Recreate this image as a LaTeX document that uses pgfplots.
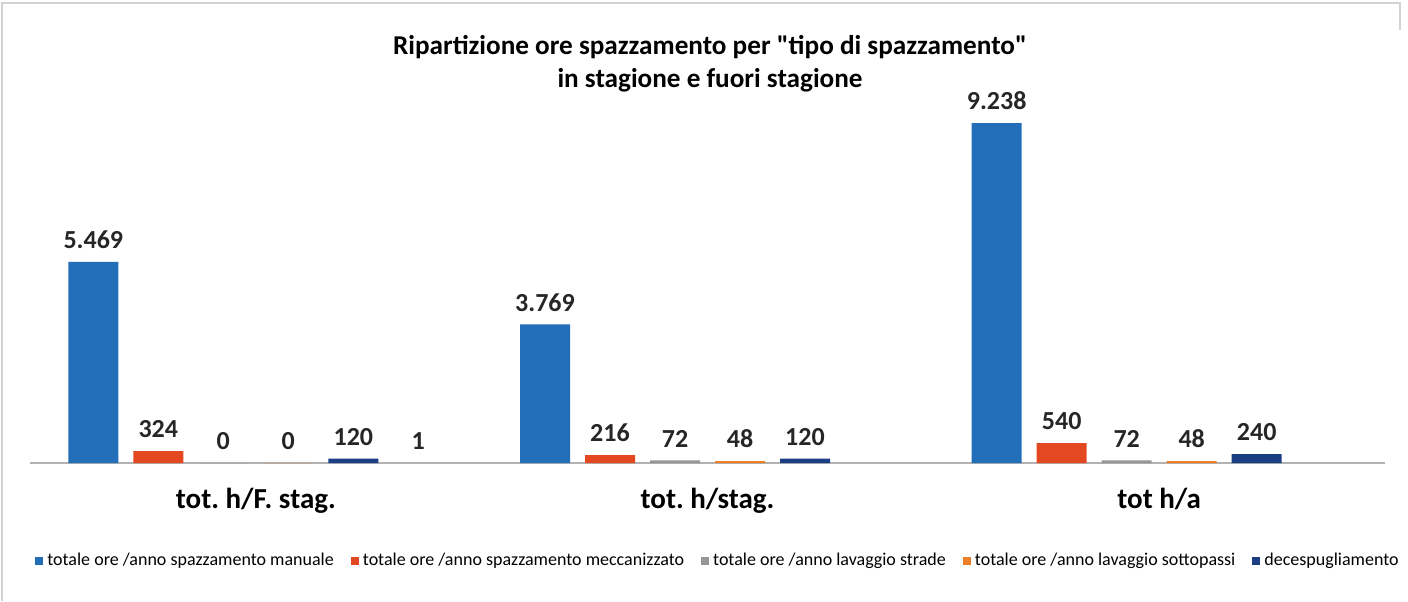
\documentclass[border=0pt]{standalone}
\usepackage{fontspec}
\setmainfont{Carlito}
\newfontfamily\qfont{Carlito}
\usepackage{pgfplots}
\pgfplotsset{compat=1.18}
\definecolor{cManual}{RGB}{34,110,184}
\definecolor{cMecc}{RGB}{228,72,32}
\definecolor{cStrade}{RGB}{150,150,150}
\definecolor{cSotto}{RGB}{236,128,40}
\definecolor{cDecesp}{RGB}{28,62,132}
\frenchspacing
\begin{document}
\begin{tikzpicture}
\path[use as bounding box] (0,0) rectangle (704pt,-300.5pt);
\draw[gray!35, line width=0.8pt] (1pt,-300.5pt) -- (1pt,-1.5pt) -- (700pt,-1.5pt) -- (700pt,-15pt);
\node[font=\bfseries\fontsize{13.6}{16.5}\selectfont, align=center] at (355pt,-32pt)
  {Ripartizione ore spazzamento per {\qfont"}tipo di spazzamento{\qfont"}\\in stagione e fuori stagione};
\begin{axis}[
  at={(15pt,-231.5pt)}, anchor=south west,
  scale only axis, width=677.5pt, height=184pt,
  xmin=-0.5, xmax=2.5, ymin=0, ymax=10000,
  ybar=7.5pt, bar width=25pt,
  axis x line*=bottom, axis y line=none,
  x axis line style={-, gray!60, line width=0.8pt},
  xtick={0,1,2},
  xticklabels={tot. h/F. stag., tot. h/stag., tot h/a},
  major tick length=0pt,
  xticklabel style={font=\bfseries\fontsize{14.5}{17}\selectfont, yshift=-9pt},
  nodes near coords={\pgfmathprintnumber[fixed,precision=0,1000 sep={.},assume math mode=true]{\pgfplotspointmeta}},
  every node near coord/.append style={font=\bfseries\fontsize{13}{15}\selectfont, yshift=3pt, text=black!85},
  legend style={at={(0.5085,-0.266)}, anchor=center, draw=none, fill=none,
    legend columns=5, font=\fontsize{9}{11}\selectfont,
    /tikz/every even column/.append style={column sep=6.5pt},
    inner sep=0pt},
  legend image code/.code={\path[#1,draw=none] (0pt,-2pt) rectangle (4pt,2pt);},
]
\addplot[fill=cManual, draw=none] coordinates {(0,5469) (1,3769) (2,9238)};
\addplot[fill=cMecc, draw=none] coordinates {(0,324) (1,216) (2,540)};
\addplot[fill=cStrade, draw=none] coordinates {(0,0) (1,72) (2,72)};
\addplot[fill=cSotto, draw=none] coordinates {(0,0) (1,48) (2,48)};
\addplot[fill=cDecesp, draw=none] coordinates {(0,120) (1,120) (2,240)};
\addplot[fill=none, draw=none] coordinates {(0,1)};
\legend{totale ore /anno spazzamento manuale, totale ore /anno spazzamento meccanizzato, totale ore /anno lavaggio strade, totale ore /anno lavaggio sottopassi, decespugliamento}
\end{axis}
\end{tikzpicture}
\end{document}
